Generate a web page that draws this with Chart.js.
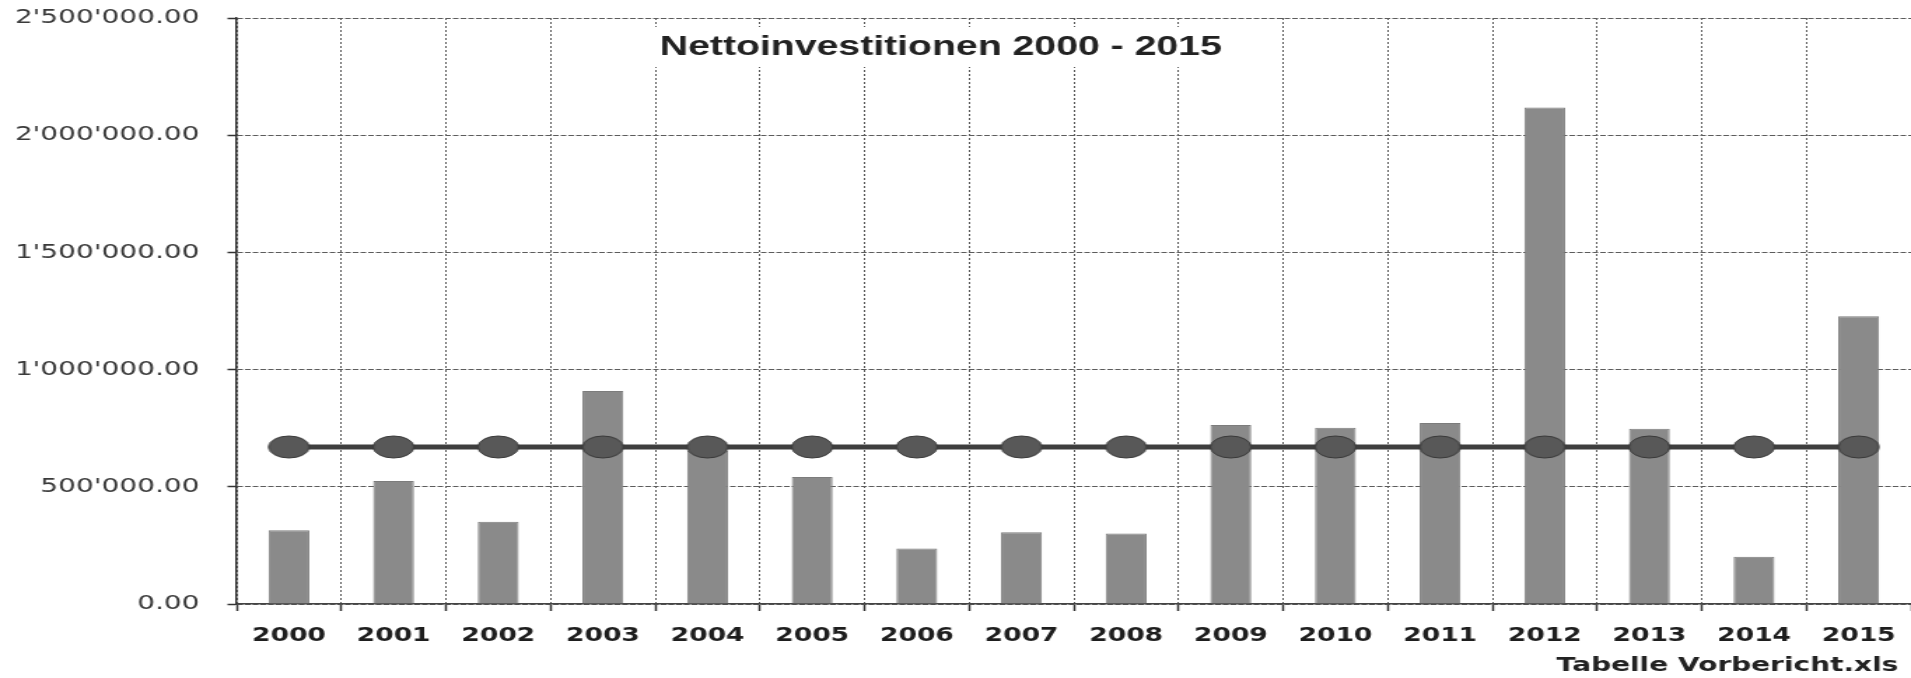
<!DOCTYPE html>
<html>
<head>
<meta charset="utf-8">
<script src="https://cdn.jsdelivr.net/npm/chart.js@4.4.0/dist/chart.umd.min.js"></script>
<style>
  html, body { margin: 0; padding: 0; background: #fff; overflow: hidden; }
  /* chart is laid out narrow and stretched sideways to get the wide lettering */
  #wrap { width: 1365px; height: 678px; transform: scaleX(1.4); transform-origin: 0 0; }
</style>
</head>
<body>
<div id="wrap"><canvas id="chart"></canvas></div>
<script>
const jahre = ['2000', '2001', '2002', '2003', '2004', '2005', '2006', '2007',
               '2008', '2009', '2010', '2011', '2012', '2013', '2014', '2015'];
const nettoinvestitionen = [315000, 525000, 351000, 909000, 655000, 542000, 237000, 306000,
                            301000, 764000, 752000, 772000, 2118000, 748000, 202000, 1228000];
const durchschnitt = [670000, 670000, 670000, 670000, 670000, 670000, 670000, 670000,
                      670000, 670000, 670000, 670000, 670000, 670000, 670000, 670000];
const yMax = 2500000;
const yStep = 500000;
const titel = 'Nettoinvestitionen 2000 - 2015';
const quelle = 'Tabelle Vorbericht.xls';

// 1'234'567.00
function chf(v) {
  return Number(v).toFixed(2).replace(/\B(?=(\d{3})+(?!\d))/g, "'");
}

// oval marker for the average line
function ovalMarker() {
  const c = document.createElement('canvas');
  c.width = 32; c.height = 24;
  const g = c.getContext('2d');
  g.beginPath();
  g.ellipse(16, 12, 14.5, 11, 0, 0, Math.PI * 2);
  g.fillStyle = '#585858';
  g.fill();
  g.lineWidth = 1;
  g.strokeStyle = '#3a3a3a';
  g.stroke();
  return c;
}

const beschriftung = {
  id: 'beschriftung',
  afterDraw(chart) {
    const ctx = chart.ctx;
    ctx.save();
    ctx.fillStyle = '#fff';
    ctx.fillRect(456, 27, 432, 40);
    ctx.fillStyle = '#222';
    ctx.font = 'bold 28px "Liberation Sans", Arial, sans-serif';
    ctx.textAlign = 'center';
    ctx.textBaseline = 'middle';
    ctx.fillText(titel, 672, 47);
    ctx.font = 'bold 20px "DejaVu Sans", sans-serif';
    ctx.textAlign = 'right';
    ctx.fillText(quelle, 1356, 666);
    ctx.restore();
  }
};

const ctx = document.getElementById('chart').getContext('2d');
new Chart(ctx, {
  type: 'bar',
  data: {
    labels: jahre,
    datasets: [{
      type: 'line',
      label: 'Durchschnitt',
      data: durchschnitt,
      borderColor: '#3e3e3e',
      borderWidth: 5,
      pointStyle: ovalMarker(),
      pointRadius: 12,
      fill: false,
      order: 1
    }, {
      label: 'Nettoinvestitionen',
      data: nettoinvestitionen,
      backgroundColor: '#8a8a8a',
      borderColor: '#7c7c7c',
      borderWidth: 1,
      barPercentage: 0.39,
      categoryPercentage: 1,
      order: 2
    }]
  },
  options: {
    responsive: true,
    maintainAspectRatio: false,
    animation: false,
    layout: { autoPadding: false, padding: { top: 18, right: 0, bottom: 0, left: 0 } },
    plugins: {
      legend: { display: false },
      tooltip: { enabled: false },
      title: { display: false }
    },
    scales: {
      x: {
        grid: { color: '#5c5c5c', lineWidth: 1, tickLength: 7, tickColor: '#333', tickWidth: 1.5, tickBorderDash: [] },
        border: { color: '#444', width: 1.5, dash: [2, 2] },
        ticks: {
          color: '#1e1e1e',
          padding: 14,
          autoSkip: false,
          maxRotation: 0,
          font: { family: '"DejaVu Sans", sans-serif', size: 19, weight: 'bold' }
        },
        afterFit(scale) {
          scale.height = 74;
          scale.paddingLeft = 0;
          scale.paddingRight = 0;
        }
      },
      y: {
        min: 0,
        max: yMax,
        grid: { color: '#5c5c5c', lineWidth: 1, tickLength: 6.5, tickColor: '#333', tickWidth: 1.5, tickBorderDash: [] },
        border: { color: '#333', width: 1.5, dash: [4, 1.5] },
        ticks: {
          stepSize: yStep,
          color: '#3a3a3a',
          padding: 20,
          font: { family: '"DejaVu Sans", sans-serif', size: 20 },
          callback: v => chf(v)
        },
        afterFit(scale) {
          scale.width = 169;
          scale.paddingTop = 0;
          scale.paddingBottom = 0;
        }
      }
    }
  },
  plugins: [beschriftung]
});
</script>
</body>
</html>
